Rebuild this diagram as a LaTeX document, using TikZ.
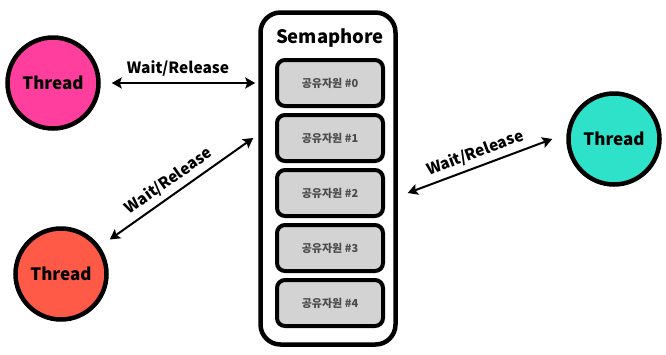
\documentclass[tikz,border=0pt]{standalone}
\usepackage{fontspec}
\setmainfont{Noto Sans CJK KR}
\usetikzlibrary{arrows.meta,positioning}
\definecolor{threadpink}{RGB}{255,62,158}
\definecolor{threadred}{RGB}{255,90,71}
\definecolor{threadteal}{RGB}{45,226,201}
\definecolor{slotgray}{RGB}{211,211,211}
\definecolor{slottext}{RGB}{75,75,75}
\tikzset{
  thread/.style={circle, draw=black, line width=4.5pt, minimum size=91pt,
                 inner sep=0pt, font=\bfseries\fontsize{17}{17}\selectfont},
  slot/.style={draw=black, line width=4pt, rounded corners=8pt, fill=slotgray,
               minimum width=106pt, minimum height=46pt, inner sep=0pt,
               font=\bfseries\fontsize{11}{11}\selectfont, text=slottext},
  semabox/.style={draw=black, line width=4.5pt, rounded corners=20pt,
                  minimum width=135pt, minimum height=332pt, inner sep=0pt},
  wr/.style={{Stealth[length=10pt,width=11pt,inset=2pt]}-{Stealth[length=10pt,width=11pt,inset=2pt]},
             line width=2pt},
  wrlabel/.style={font=\bfseries\fontsize{15.5}{15.5}\selectfont, inner sep=2pt},
}

\begin{document}
\begin{tikzpicture}[x=1pt,y=-1pt]
    \useasboundingbox (0,0) rectangle (666,354);
    % the semaphore and its five resources
    \node[semabox] (sema) at (328,178.5) {};
    \node[font=\bfseries\fontsize{18.5}{18.5}\selectfont] (title) at (330,38) {Semaphore};
    \foreach \i in {0,...,4}
      \node[slot] (r\i) at (330,83+55*\i) {공유자원 \#\i};
    % threads
    \node[thread, fill=threadpink] (t1) at (53,83)  {Thread};
    \node[thread, fill=threadred]  (t2) at (61,274) {Thread};
    \node[thread, fill=threadteal] (t3) at (614,139) {Thread};
    % wait / release
    \draw[wr, shorten <=11pt] (t1) -- ([xshift=-3pt]sema.west |- t1)
      node[midway, above=4pt, wrlabel] {Wait/Release};
    \draw[wr, shorten <=12pt] (t2) -- ([xshift=-5pt]sema.west |- r1)
      node[midway, above=3pt, sloped, wrlabel] {Wait/Release};
    \draw[wr] ([xshift=10pt]sema.east |- r2) -- ([xshift=-14pt]t3.west)
      node[midway, above=3pt, sloped, wrlabel] {Wait/Release};
\end{tikzpicture}
\end{document}
